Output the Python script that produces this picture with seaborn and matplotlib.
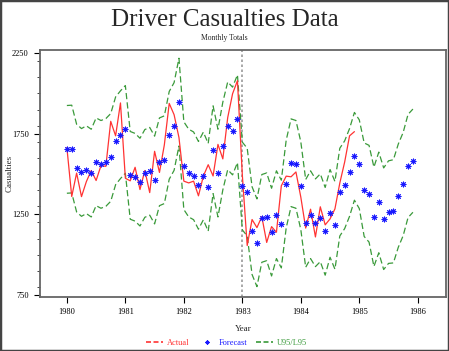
import numpy as np
import pandas as pd
import matplotlib
matplotlib.use('Agg')
import matplotlib.pyplot as plt
from matplotlib.lines import Line2D
from matplotlib.patches import Rectangle
from matplotlib.ticker import MultipleLocator
import seaborn as sns

# monthly driver casualties, Jan 1980 - Dec 1984
actual = [1665, 1361, 1506, 1360, 1453, 1522, 1460, 1552, 1548, 1827, 1737, 1941,
          1474, 1458, 1542, 1404, 1522, 1385, 1641, 1510, 1681, 1938, 1868, 1726,
          1456, 1445, 1456, 1365, 1487, 1558, 1488, 1684, 1594, 1850, 1998, 2079,
          1494, 1057, 1218, 1168, 1236, 1076, 1174, 1139, 1427, 1487, 1483, 1513,
          1357, 1165, 1282, 1110, 1297, 1185, 1222, 1284, 1444, 1575, 1737, 1763]

# one-step forecasts Jan 1980 - Dec 1985
forecast = [1653, 1655, 1537, 1510, 1527, 1506, 1576, 1560, 1572, 1603, 1706, 1744,
            1777, 1492, 1480, 1450, 1504, 1517, 1463, 1576, 1589, 1740, 1795, 1946,
            1552, 1506, 1489, 1430, 1488, 1418, 1651, 1506, 1674, 1799, 1767, 1843,
            1426, 1388, 1149, 1074, 1225, 1235, 1140, 1248, 1190, 1438, 1570, 1560,
            1428, 1194, 1248, 1198, 1229, 1145, 1256, 1182, 1388, 1434, 1510, 1610,
            1561, 1403, 1378, 1235, 1324, 1223, 1264, 1269, 1366, 1438, 1550, 1583]

u95 = [1925, 1927, 1809, 1782, 1799, 1778, 1848, 1832, 1844, 1875, 1978, 2016,
       2049, 1764, 1752, 1722, 1776, 1789, 1735, 1848, 1861, 2012, 2067, 2218,
       1824, 1778, 1761, 1702, 1760, 1690, 1923, 1778, 1946, 2071, 2039, 2115,
       1698, 1660, 1421, 1346, 1497, 1507, 1412, 1520, 1462, 1710, 1842, 1832,
       1700, 1466, 1520, 1470, 1501, 1417, 1528, 1454, 1660, 1706, 1782, 1882,
       1836, 1693, 1678, 1543, 1636, 1538, 1582, 1589, 1686, 1758, 1870, 1903]

l95 = [1381, 1383, 1265, 1238, 1255, 1234, 1304, 1288, 1300, 1331, 1434, 1472,
       1505, 1220, 1208, 1178, 1232, 1245, 1191, 1304, 1317, 1468, 1523, 1674,
       1280, 1234, 1217, 1158, 1216, 1146, 1379, 1234, 1402, 1527, 1495, 1571,
       1154, 1116, 877, 802, 953, 963, 868, 976, 918, 1166, 1298, 1288,
       1156, 922, 976, 926, 957, 873, 984, 910, 1116, 1162, 1238, 1338,
       1286, 1113, 1078, 927, 1012, 908, 946, 949, 1046, 1118, 1230, 1263]

years = [1980, 1981, 1982, 1983, 1984, 1985, 1986]
y_labels = [750, 1250, 1750, 2250]

red = '#ff3333'
blue = '#1a1aff'
green = '#3a9a3a'

sns.set_style('white')
plt.rcParams['font.family'] = ['Liberation Serif', 'DejaVu Serif']

n = len(forecast)
df = pd.DataFrame({'t': years[0] + np.arange(n) / 12.0,
                   'Forecast': forecast, 'U95': u95, 'L95': l95})
df['Actual'] = pd.Series(actual, dtype=float)

fig = plt.figure(figsize=(4.49, 3.51), dpi=100)
ax = fig.add_axes([0.089, 0.154, 0.904, 0.703])

dash = (0, (5, 2.5))
sns.lineplot(data=df, x='t', y='U95', color=green, linestyle=dash, linewidth=0.9, ax=ax)
sns.lineplot(data=df, x='t', y='L95', color=green, linestyle=dash, linewidth=0.9, ax=ax)
sns.lineplot(data=df.dropna(), x='t', y='Actual', color=red, linewidth=0.9, ax=ax)
ax.scatter(df['t'], df['Forecast'], marker=(8, 2, 0), s=13, color=blue, linewidths=0.7, zorder=4)

ax.axvline(1983, color='#999999', linestyle=(0, (1.5, 1.5)), linewidth=1.2, zorder=1)

ax.set_xlim(1979.54, 1986.48)
ax.set_ylim(738, 2268)
ax.set_xticks(years)
ax.set_xticklabels([str(y) for y in years], fontsize=6)
ax.set_yticks(y_labels)
ax.set_yticklabels([str(v) for v in y_labels], fontsize=6)
ax.yaxis.set_minor_locator(MultipleLocator(100))
ax.tick_params(axis='both', which='major', direction='out', length=4, width=0.8,
               left=True, bottom=True, colors='black', pad=4)
ax.tick_params(axis='y', which='minor', direction='out', length=2.5, width=0.6, left=True)
for s in ax.spines.values():
    s.set_color('#666666')
    s.set_linewidth(1.3)

ax.set_xlabel('Year', fontsize=6.5)
ax.xaxis.set_label_coords(0.5, -0.115)
ax.set_ylabel('Casualties', fontsize=6.5)
ax.yaxis.set_label_coords(-0.065, 0.5)

fig.text(0.5, 0.943, 'Driver Casualties Data', ha='center', va='center', fontsize=18)
fig.text(0.5, 0.892, 'Monthly Totals', ha='center', va='center', fontsize=5.5)

handles = [Line2D([], [], color=red, linestyle=(0, (3, 1.5)), linewidth=1.2),
           Line2D([], [], color=blue, linestyle='none', marker=(8, 2, 0), markersize=3, markeredgewidth=0.6),
           Line2D([], [], color=green, linestyle=(0, (3, 1.5)), linewidth=1.2)]
fig.legend(handles, ['Actual', 'Forecast', 'U95/L95'], loc='center', bbox_to_anchor=(0.505, 0.022),
           ncol=3, frameon=False, fontsize=6, handlelength=2.0, handletextpad=0.5,
           columnspacing=1.0, labelcolor=[red, blue, green])

fig.patches.append(Rectangle((0, 0), 1, 1, transform=fig.transFigure, fill=False,
                             edgecolor='#444444', linewidth=2.5))

fig.savefig('out.png', dpi=100)
